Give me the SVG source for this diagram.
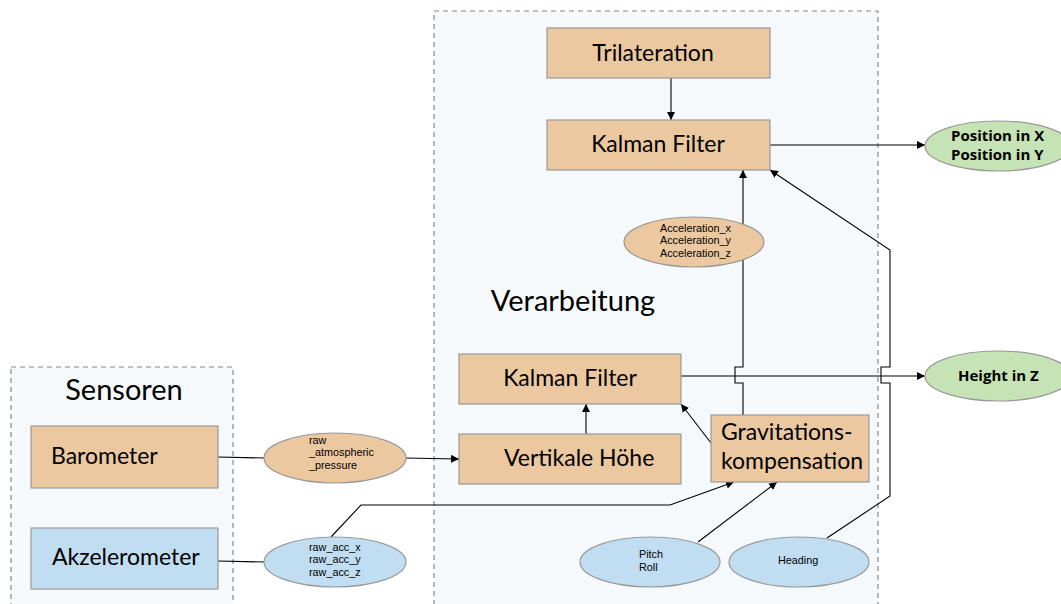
<svg xmlns="http://www.w3.org/2000/svg" width="1061" height="604" viewBox="0 0 1061 604">
<defs>
<marker id="ah" viewBox="0 0 10 10" refX="10" refY="5" markerWidth="8" markerHeight="8" markerUnits="userSpaceOnUse" orient="auto">
<path d="M0,0 L10,5 L0,10 z" fill="#000"/>
</marker>
<style>
.cont{fill:#f5f9fb;stroke:#888;stroke-width:1.2;stroke-dasharray:5,4}
.box{stroke:#999;stroke-width:1.2}
.or{fill:#ebc8a0}
.bl{fill:#c1ddf1}
.gr{fill:#c6e3b6}
.big{font-family:Lato,"Open Sans",sans-serif;font-size:23px;fill:#000}
.title{font-family:Lato,"Open Sans",sans-serif;font-size:29px;fill:#000}
.sm{font-family:"Liberation Sans",Arial,sans-serif;font-size:10.8px;fill:#000}
.bd{font-family:"Open Sans",Lato,sans-serif;font-size:15px;font-weight:bold;fill:#000}
.ln{fill:none;stroke:#000;stroke-width:1.1}
</style>
</defs>
<rect width="1061" height="604" fill="#fff"/>
<g id="sensoren">
<rect class="cont" x="11" y="367" width="222" height="245"/>
<text class="title" x="124" y="400" text-anchor="middle">Sensoren</text>
</g>
<g id="verarbeitung">
<rect class="cont" x="434" y="11" width="444" height="600"/>
<text class="title" x="573" y="311" text-anchor="middle">Verarbeitung</text>
</g>
<g id="connectors">
<line class="ln" x1="671" y1="78" x2="671" y2="120" marker-end="url(#ah)"/>
<line class="ln" x1="770" y1="145" x2="925" y2="145" marker-end="url(#ah)"/>
<line class="ln" x1="218" y1="457" x2="264" y2="458"/>
<line class="ln" x1="405" y1="458" x2="459" y2="459" marker-end="url(#ah)"/>
<line class="ln" x1="218" y1="561" x2="264" y2="562"/>
<polyline class="ln" points="331,537 361,505 670,505 734,482" marker-end="url(#ah)"/>
<line class="ln" x1="586" y1="434" x2="586" y2="404" marker-end="url(#ah)"/>
<line class="ln" x1="711" y1="443" x2="681" y2="404" marker-end="url(#ah)"/>
<line class="ln" x1="698" y1="542" x2="777" y2="482" marker-end="url(#ah)"/>
<polyline class="ln" points="743,415 743,383 735,383 735,367 743,367 743,170" marker-end="url(#ah)"/>
<line class="ln" x1="677" y1="376" x2="925" y2="376" marker-end="url(#ah)"/>
<polyline class="ln" points="827,538 890,496 890,383 881,383 881,367 890,367 890,250 770,170" marker-end="url(#ah)"/>
</g>
<g id="trilateration">
<rect class="box or" x="547" y="28" width="223" height="50"/>
<text class="big" x="653" y="61" text-anchor="middle">Trilateration</text>
</g>
<g id="kalman-top">
<rect class="box or" x="547" y="120" width="223" height="50"/>
<text class="big" x="658" y="152" text-anchor="middle">Kalman Filter</text>
</g>
<g id="position">
<ellipse class="gr" cx="998" cy="146" rx="73" ry="25" stroke="#999" stroke-width="1.2"/>
<text class="bd" x="951" y="141">Position in X</text>
<text class="bd" x="951" y="160">Position in Y</text>
</g>
<g id="acceleration">
<ellipse class="or" cx="694" cy="242" rx="70" ry="25" stroke="#999" stroke-width="1.2"/>
<text class="sm" x="660" y="231.5">Acceleration_x</text>
<text class="sm" x="660" y="244.3">Acceleration_y</text>
<text class="sm" x="660" y="257.1">Acceleration_z</text>
</g>
<g id="kalman-low">
<rect class="box or" x="459" y="354" width="222" height="50"/>
<text class="big" x="570" y="386" text-anchor="middle">Kalman Filter</text>
</g>
<g id="height">
<ellipse class="gr" cx="998" cy="376" rx="73" ry="25" stroke="#999" stroke-width="1.2"/>
<text class="bd" x="958" y="381">Height in Z</text>
</g>
<g id="vertikale">
<rect class="box or" x="459" y="434" width="222" height="50"/>
<text class="big" x="504" y="466">Vertikale Höhe</text>
</g>
<g id="gravitation">
<rect class="box or" x="711" y="415" width="158" height="67"/>
<text class="big" x="721" y="440">Gravitations-</text>
<text class="big" x="721" y="469">kompensation</text>
</g>
<g id="barometer">
<rect class="box or" x="31" y="426" width="187" height="62"/>
<text class="big" x="51" y="464">Barometer</text>
</g>
<g id="akzelerometer">
<rect class="box bl" x="31" y="528" width="187" height="61"/>
<text class="big" x="52" y="565">Akzelerometer</text>
</g>
<g id="raw-pressure">
<ellipse class="or" cx="335" cy="458" rx="71" ry="25" stroke="#999" stroke-width="1.2"/>
<text class="sm" x="309" y="443.5">raw</text>
<text class="sm" x="309" y="456.3">_atmospheric</text>
<text class="sm" x="309" y="469.1">_pressure</text>
</g>
<g id="raw-acc">
<ellipse class="bl" cx="335" cy="562" rx="71" ry="25" stroke="#999" stroke-width="1.2"/>
<text class="sm" x="309" y="550.5">raw_acc_x</text>
<text class="sm" x="309" y="563.3">raw_acc_y</text>
<text class="sm" x="309" y="576.1">raw_acc_z</text>
</g>
<g id="pitch-roll">
<ellipse class="bl" cx="650" cy="562" rx="70" ry="25" stroke="#999" stroke-width="1.2"/>
<text class="sm" x="639" y="558">Pitch</text>
<text class="sm" x="639" y="571">Roll</text>
</g>
<g id="heading">
<ellipse class="bl" cx="799" cy="562" rx="70" ry="25" stroke="#999" stroke-width="1.2"/>
<text class="sm" x="778" y="564">Heading</text>
</g>
</svg>
